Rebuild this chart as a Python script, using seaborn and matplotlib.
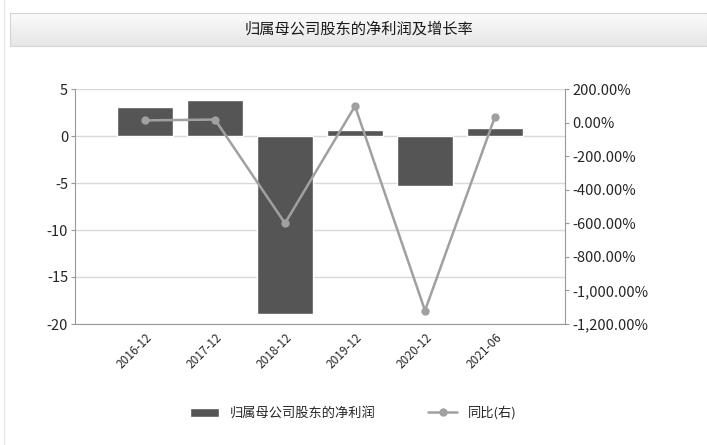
import numpy as np
import pandas as pd
import matplotlib
matplotlib.use("Agg")
import matplotlib.pyplot as plt
import seaborn as sns
from matplotlib.ticker import FuncFormatter
from matplotlib.patches import Rectangle

# data
periods = ["2016-12", "2017-12", "2018-12", "2019-12", "2020-12", "2021-06"]
net_profit = [3.1, 3.8, -18.9, 0.6, -5.3, 0.85]      # 归属母公司股东的净利润
yoy_pct = [13.0, 18.0, -600.0, 98.0, -1120.0, 35.0]   # 同比(右), %

df = pd.DataFrame({"period": periods, "profit": net_profit, "yoy": yoy_pct})

sns.set_style("white")
plt.rcParams["font.family"] = ["Noto Sans CJK SC", "DejaVu Sans"]
plt.rcParams["axes.unicode_minus"] = False

fig = plt.figure(figsize=(7.07, 4.45), dpi=100)

# header strip with gradient
hax = fig.add_axes([10 / 707, 1 - 46 / 445, 697 / 707, 33 / 445])
grad = np.linspace(1.0, 0.0, 64).reshape(-1, 1)
hax.imshow(grad, aspect="auto", cmap=matplotlib.colors.LinearSegmentedColormap.from_list(
    "hdr", ["#e6e6e6", "#fbfbfb"]), extent=[0, 1, 0, 1])
hax.set_xticks([])
hax.set_yticks([])
for s in hax.spines.values():
    s.set_color("#d4d4d4")
hax.text(0.5, 0.5, "归属母公司股东的净利润及增长率", ha="center", va="center",
         fontsize=11, color="#1a1a1a", fontweight="medium")

# outer frame line on the left
fig.add_artist(Rectangle((4 / 707, -0.01), 1.2, 1.2, transform=fig.transFigure,
                         fill=False, edgecolor="#e6e6e6", lw=1))

ax = fig.add_axes([75 / 707, 1 - 324 / 445, 490 / 707, 235 / 445])
sns.barplot(data=df, x="period", y="profit", color="#555555", saturation=1,
            width=0.8, ax=ax, label="归属母公司股东的净利润", zorder=2)
ax.set_xlim(-1, 6)
ax.set_ylim(-20, 5)
ax.set_yticks([5, 0, -5, -10, -15, -20])
ax.yaxis.grid(True, color="#d9d9d9", lw=1)
ax.set_axisbelow(True)
ax.set_xlabel("")
ax.set_ylabel("")
ax.spines["top"].set_visible(False)
for side in ["left", "bottom", "right"]:
    ax.spines[side].set_color("#999999")
ax.tick_params(axis="y", labelsize=10.5, length=3, color="#999999", pad=2)
ax.tick_params(axis="x", labelsize=8.5, length=3, color="#999999", pad=2)
plt.setp(ax.get_xticklabels(), rotation=45, ha="right", rotation_mode="anchor")

ax2 = ax.twinx()
sns.lineplot(data=df, x="period", y="yoy", ax=ax2, color="#a0a0a0", lw=1.8,
             marker="o", markersize=6, markeredgewidth=0, label="同比(右)")
ax2.set_ylim(-1200, 200)
ax2.set_yticks(np.arange(200, -1201, -200))
ax2.yaxis.set_major_formatter(FuncFormatter(lambda v, p: f"{v:,.2f}%"))
ax2.set_ylabel("")
ax2.set_xlim(-1, 6)
ax2.tick_params(axis="y", labelsize=10.5, length=3, color="#999999", pad=2)
for s in ax2.spines.values():
    s.set_visible(False)

h1, l1 = ax.get_legend_handles_labels()
h2, l2 = ax2.get_legend_handles_labels()
if ax2.get_legend():
    ax2.get_legend().remove()
if ax.get_legend():
    ax.get_legend().remove()
fig.legend(h1 + h2, l1 + l2, loc="center", bbox_to_anchor=(0.5, 1 - 413 / 445),
           ncol=2, frameon=False, fontsize=9.5, handlelength=2.2, columnspacing=4)

fig.savefig("out.png", dpi=100)
